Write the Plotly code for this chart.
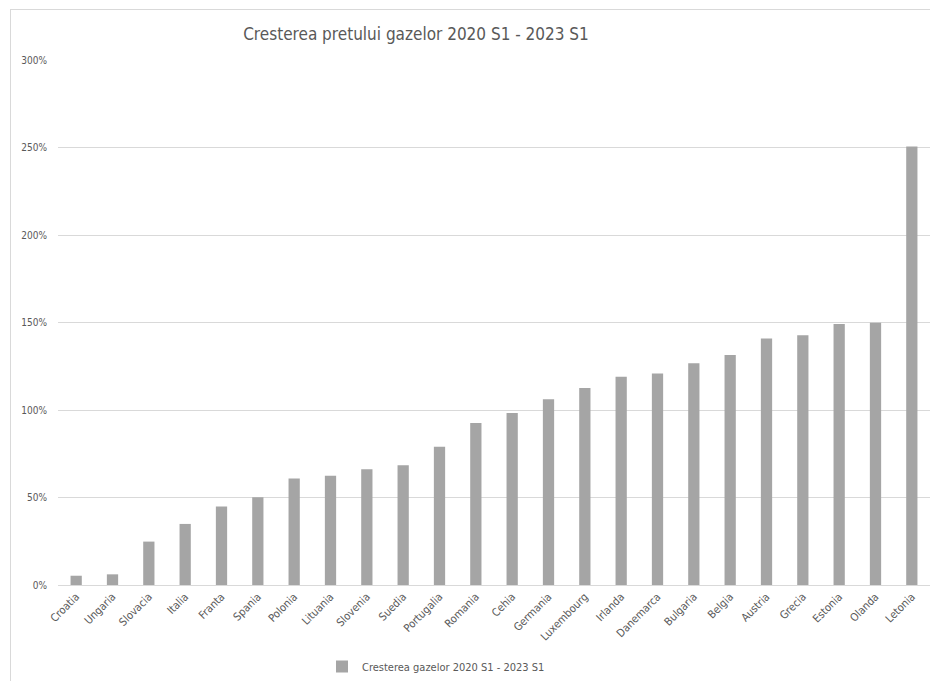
import plotly.graph_objects as go

countries = ["Croatia", "Ungaria", "Slovacia", "Italia", "Franta", "Spania", "Polonia",
             "Lituania", "Slovenia", "Suedia", "Portugalia", "Romania", "Cehia", "Germania",
             "Luxembourg", "Irlanda", "Danemarca", "Bulgaria", "Belgia", "Austria", "Grecia",
             "Estonia", "Olanda", "Letonia"]
values = [0.053, 0.061, 0.248, 0.349, 0.448, 0.501, 0.608, 0.625, 0.661, 0.684, 0.790,
          0.926, 0.983, 1.061, 1.126, 1.190, 1.208, 1.267, 1.314, 1.408, 1.427, 1.491,
          1.499, 2.506]
series_name = "Cresterea gazelor 2020 S1 - 2023 S1"
title_text = "Cresterea pretului gazelor 2020 S1 - 2023 S1"
y_ticks = [0, 0.5, 1.0, 1.5, 2.0, 2.5, 3.0]

FONT = "Liberation Sans Narrow, DejaVu Sans Condensed, Lato, sans-serif"

W, H = 930, 681
L, R, T, B = 58, 0, 60, 96
pw, ph = W - L - R, H - T - B

fig = go.Figure()
fig.add_trace(go.Bar(
    x=countries, y=values, name=series_name,
    marker=dict(color="#A5A5A5", line=dict(width=0)),
    showlegend=True,
))

def px_x(p):
    return (p - L) / pw

def px_y(p):
    return (H - B - p) / ph

fig.update_layout(
    width=W, height=H,
    margin=dict(l=L, r=R, t=T, b=B),
    paper_bgcolor="white", plot_bgcolor="white",
    bargap=0.69,
    font=dict(family=FONT, color="#595959", size=11),
    title=dict(text=title_text, x=416 / W, xanchor="center", y=1 - 34 / H, yanchor="middle",
               font=dict(family=FONT, size=17, color="#595959")),
    xaxis=dict(showgrid=False, showline=True, linecolor="#D9D9D9", linewidth=1,
               tickangle=-45, ticks="", tickfont=dict(size=11, color="#595959"),
               fixedrange=True),
    yaxis=dict(range=[0, 3.0], tickvals=y_ticks, tickformat=".0%", showgrid=True,
               gridcolor="#D9D9D9", gridwidth=1, zeroline=False, showline=False,
               ticks="", ticklabelstandoff=10, tickfont=dict(size=10, color="#595959"),
               fixedrange=True),
    legend=dict(orientation="h", x=px_x(436), xanchor="center", y=px_y(667), yanchor="middle",
                font=dict(size=11, color="#595959"), itemwidth=30),
    shapes=[
        dict(type="line", xref="paper", yref="paper", x0=px_x(10.5), x1=px_x(10.5),
             y0=px_y(9), y1=px_y(H + 5), line=dict(color="#D9D9D9", width=1)),
        dict(type="line", xref="paper", yref="paper", x0=px_x(10.5), x1=px_x(W + 5),
             y0=px_y(9.5), y1=px_y(9.5), line=dict(color="#D9D9D9", width=1)),
    ],
)

fig.write_html("out.html", config={"displayModeBar": False},
               post_script="document.body.style.margin='0';document.body.style.overflow='hidden';")
